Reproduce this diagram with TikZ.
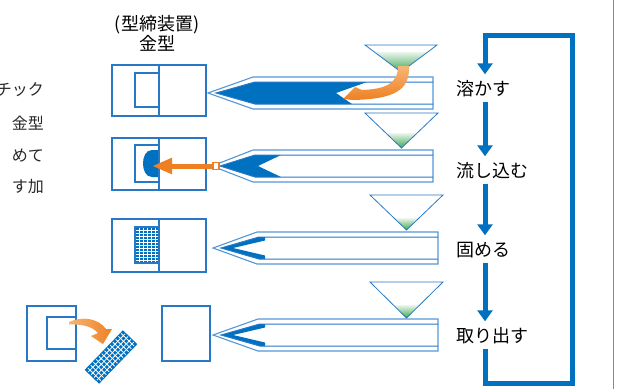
\documentclass[tikz,border=0pt]{standalone}
\usepackage{fontspec}
\setmainfont{Noto Sans CJK JP}
\usetikzlibrary{arrows.meta,calc}

\definecolor{mblue}{RGB}{0,112,192}
\definecolor{lineblue}{RGB}{40,120,200}
\definecolor{paleblue}{RGB}{85,150,215}
\definecolor{hgreen}{RGB}{60,165,80}
\definecolor{dorange}{RGB}{238,128,35}
\definecolor{lorange}{RGB}{246,182,118}
\definecolor{txtgray}{RGB}{40,40,40}

\tikzset{
  mold/.style={draw=lineblue, line width=1.2pt},
  barrel/.style={draw=paleblue, line width=1.1pt},
  hopper/.style={draw=lineblue, line width=0.8pt},
  flow/.style={draw=mblue, line width=5pt, -{Triangle[width=15pt,length=11pt]}},
  stepname/.style={font=\fontsize{18}{18}\selectfont, anchor=west, inner xsep=0pt,
    inner ysep=5.5pt, text height=15pt, text depth=1pt},
  note/.style={font=\fontsize{16}{16}\selectfont, text=txtgray, anchor=east, inner sep=0pt},
  mesh/.style={white, line width=0.8pt}
}

\begin{document}
\begin{tikzpicture}[x=1pt,y=-1pt]
	\useasboundingbox (0,0) rectangle (617,389);

	% text on the left, running off the page
	\node[note] (n1) at (44,90) {チック};
	\node[note] (n2) at (44,123) {金型};
	\node[note] (n3) at (44,156) {めて};
	\node[note] (n4) at (44,187) {す加};

	\node[font=\fontsize{18}{20}\selectfont, align=center] (hdr) at (157,33) {(型締装置)\\金型};

	% hoppers with the green pellets in the bottom
	\foreach \xl/\xr/\yt/\yb/\f in {365/437/45/72/0.25, 365/438/113/148/0.57, 370/443/195/230/0.66, 370/443/282/318/0.64}{
		\coordinate (tl) at (\xl,\yt);
		\coordinate (tr) at (\xr,\yt);
		\coordinate (tp) at ({(\xl+\xr)/2},\yb);
		\shade[top color=hgreen!10, bottom color=hgreen] ($(tl)!\f!(tp)$) -- ($(tr)!\f!(tp)$) -- (tp) -- cycle;
		\draw[hopper] (tl) -- (tr) -- (tp) -- cycle;
	}

	% resin left in the barrels
	\fill[mblue] (216,93) -- (255,82) -- (367,82) -- (336,93) -- (352,104) -- (255,104) -- cycle;
	\fill[mblue] (220,166) -- (255,155) -- (281,155) -- (258,166) -- (281,177) -- (255,177) -- cycle;
	\foreach \c in {248,335}
		\fill[mblue] (221,\c) -- (259,\c-11) -- (265,\c-11) -- (265,\c-7.5) -- (233,\c) -- (265,\c+7.5) -- (265,\c+11) -- (259,\c+11) -- cycle;

	% barrels, double outline
	\foreach \c/\xt/\xs/\xr in {93/208/253/433, 166/212/253/433, 248/213/257/438, 335/213/258/438}{
		\draw[barrel] (\xr,\c-16) -- (\xs,\c-16) -- (\xt,\c) -- (\xs,\c+16) -- (\xr,\c+16) -- cycle;
		\draw[barrel, draw=lineblue, line width=1pt] (\xr,\c-11) -- (\xs+2,\c-11) -- (\xt+8,\c) -- (\xs+2,\c+11) -- (\xr,\c+11);
	}

	% molds
	\draw[mold] (112,65) rectangle (206,116);
	\draw[mold] (159,65) -- (159,116);
	\draw[mold] (135,73) rectangle (159,107);

	\draw[mold] (112,138) rectangle (206,190);
	\fill[mblue] (159,150) -- (152,150) to[out=180,in=90] (143,163.5) to[out=-90,in=180] (152,177) -- (159,177) -- cycle;
	\draw[mold] (159,138) -- (159,190);
	\draw[mold] (135,145) rectangle (159,182);

	\draw[mold] (112,219) rectangle (206,272);
	\fill[mblue] (135,227) rectangle (159,263);
	\foreach \x in {139,143,...,155} \draw[mesh] (\x,228) -- (\x,262);
	\foreach \y in {230,233,...,260} \draw[mesh] (136,\y) -- (158,\y);
	\draw[mold] (159,219) -- (159,272);
	\draw[mold] (135,227) rectangle (159,263);

	\draw[mold] (27,306) rectangle (76,361);
	\draw[mold] (47,317) rectangle (76,349);
	\draw[mold] (162,306) rectangle (210,361);

	% the finished part
	\begin{scope}[shift={(111,357)},rotate=46]
		\fill[mblue] (-27.5,-10) rectangle (27.5,10);
		\foreach \u in {-24,-20,...,24} \draw[mesh] (\u,-9) -- (\u,9);
		\foreach \v in {-6,-2,2,6} \draw[mesh] (-26.5,\v) -- (26.5,\v);
	\end{scope}

	% orange arrows
	\shade[top color=lorange, bottom color=dorange] (398,66) -- (409,66) .. controls (410,90) and (395,99) .. (353,100) -- (343,99) -- (355,87) -- (362,90) .. controls (385,89) and (398,84) .. (398,66) -- cycle;
	\draw[dorange, line width=5pt, -{Triangle[width=15pt,length=20pt]}] (212,166) -- (152,166);
	\draw[dorange, line width=1.2pt, fill=white] (213,162.5) rectangle (219,169.5);
	\shade[left color=lorange, right color=dorange] (69,322) .. controls (82,316) and (98,318) .. (106,329) -- (112,329) -- (103,344) -- (91,336) -- (98,333) .. controls (92,326) and (81,324) .. (69,324.5) -- cycle;

	% process steps
	\node[stepname] (s1) at (456,88) {溶かす};
	\node[stepname] (s2) at (456,170) {流し込む};
	\node[stepname] (s3) at (456,249) {固める};
	\node[stepname] (s4) at (456,335) {取り出す};
	\coordinate (lx) at (485,0);
	\draw[flow] (s1.south -| lx) -- (s2.north -| lx);
	\draw[flow] (s2.south -| lx) -- (s3.north -| lx);
	\draw[flow] (s3.south -| lx) -- (s4.north -| lx);
	\draw[flow] (s4.south -| lx) |- (572,383) -- (572,35) -| (s1.north -| lx);

	\draw[paleblue, line width=1.5pt] (613.5,0) -- (613.5,389);
\end{tikzpicture}
\end{document}
